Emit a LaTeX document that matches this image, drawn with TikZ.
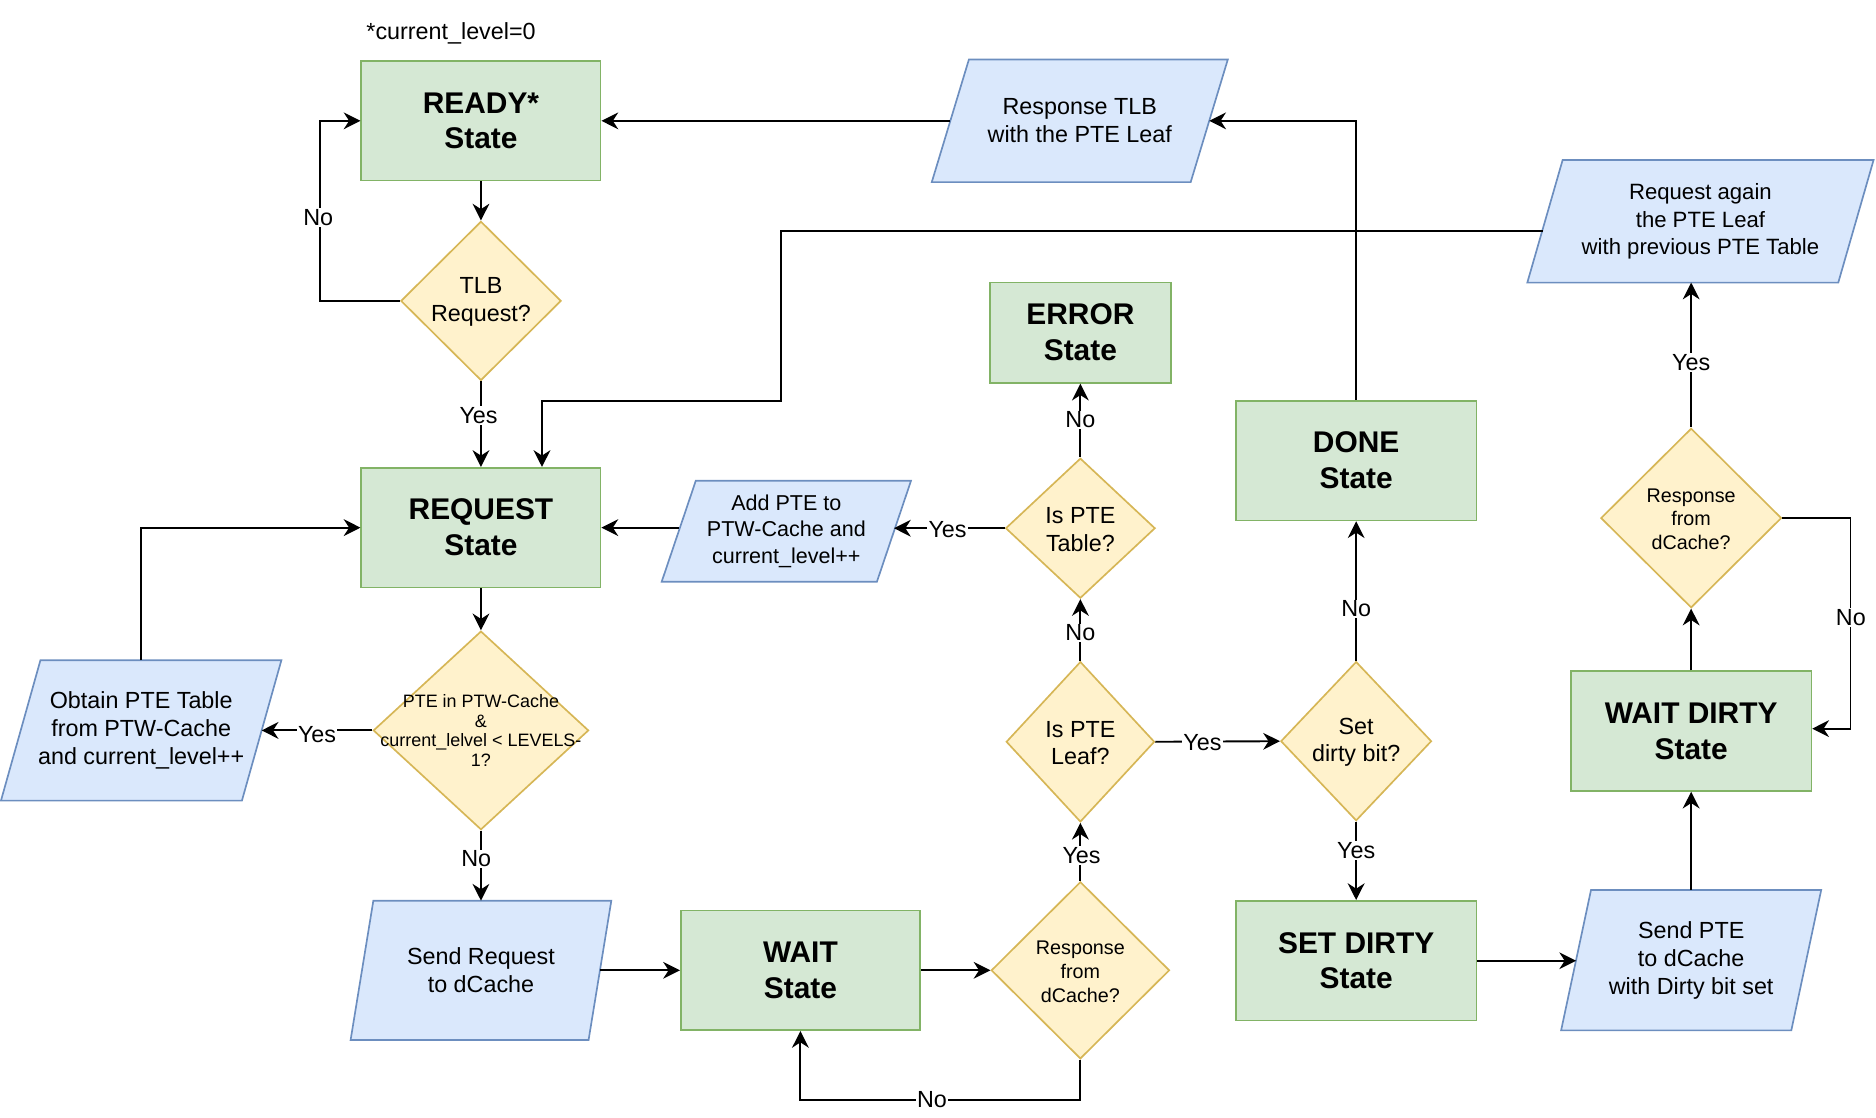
\documentclass[tikz,border=0pt]{standalone}
\usepackage{fontspec}
\setmainfont{Liberation Sans}
\usetikzlibrary{arrows.meta,shapes.geometric,calc,backgrounds}

\definecolor{stfill}{HTML}{D5E8D4}
\definecolor{stline}{HTML}{82B366}
\definecolor{dcfill}{HTML}{FFF2CC}
\definecolor{dcline}{HTML}{D6B656}
\definecolor{iofill}{HTML}{DAE8FC}
\definecolor{ioline}{HTML}{6C8EBF}

\tikzset{
  statebox/.style={rectangle, draw=stline, fill=stfill, line width=1.4pt,
    minimum width=200pt, minimum height=100pt, inner sep=0pt, align=center,
    font=\fontsize{25}{30}\selectfont\bfseries},
  decision/.style={diamond, draw=dcline, fill=dcfill, line width=1.4pt,
    inner sep=0pt, aspect=1},
  dtext/.style={align=center, inner sep=0pt, font=\fontsize{19.5}{23}\selectfont},
  dsmall/.style={align=center, inner sep=0pt, font=\fontsize{16.5}{20}\selectfont},
  iobox/.style={rectangle, inner sep=0pt, align=center,
    font=\fontsize{19.5}{23.5}\selectfont},
  conn/.style={draw, line width=1.6pt, -{Stealth[length=14pt,width=14pt,inset=4.5pt]}},
  lbl/.style={fill=white, inner sep=1pt, font=\fontsize{19.5}{22}\selectfont},
}

% parallelogram drawn around a rectangular node: #1 node, #2 horizontal slant
\newcommand\slantbox[2]{%
  \filldraw[draw=ioline, fill=iofill, line width=1.4pt]
    ($(#1.north west)+(#2/2,0)$) -- ($(#1.north east)+(#2/2,0)$) --
    ($(#1.south east)-(#2/2,0)$) -- ($(#1.south west)-(#2/2,0)$) -- cycle;}

\begin{document}
\begin{tikzpicture}[x=1pt,y=-1pt]
\useasboundingbox (0,0) rectangle (1568,934);

% ---- states ----
\node[statebox] (ready) at (402,101) {READY*\\State};
\node[statebox] (request) at (402,441) {REQUEST\\State};
\node[statebox] (wait) at (669,811) {WAIT\\State};
\node[statebox, minimum width=151pt, minimum height=84pt] (error) at (903,278) {ERROR\\State};
\node[statebox, minimum width=201pt] (done) at (1133.5,385) {DONE\\State};
\node[statebox, minimum width=201pt] (setdirty) at (1133.5,803) {SET DIRTY\\State};
\node[statebox, minimum width=201pt] (waitdirty) at (1413.5,611) {WAIT DIRTY\\State};

\node[font=\fontsize{19.5}{23}\selectfont] (note) at (377,28) {*current\_level=0};

% ---- decisions ----
\node[decision, minimum width=134pt, minimum height=133pt] (tlb) at (402,251.5) {};
\node[dtext] (tlbT) at ([yshift=-1pt]tlb) {TLB\\Request?};
\node[decision, minimum width=180pt, minimum height=166pt] (pte) at (402,610.5) {};
\node[align=center, inner sep=0pt, font=\fontsize{15}{16.5}\selectfont] (pteT) at (pte)
  {PTE in PTW-Cache\\\&\\current\_lelvel < LEVELS-\\1?};
\node[decision, minimum width=149pt, minimum height=148pt] (resp1) at (903,811) {};
\node[dsmall] (resp1T) at ([yshift=-1pt]resp1) {Response\\from\\dCache?};
\node[decision, minimum width=124pt, minimum height=134pt] (leaf) at (903,620) {};
\node[dtext] (leafT) at ([yshift=-1pt]leaf) {Is PTE\\Leaf?};
\node[decision, minimum width=125pt, minimum height=117pt] (table) at (903,441.5) {};
\node[dtext] (tableT) at ([yshift=-1pt]table) {Is PTE\\Table?};
\node[decision, minimum width=126pt, minimum height=133pt] (dirtyq) at (1133.5,619.5) {};
\node[dtext] (dirtyqT) at ([yshift=-1pt]dirtyq) {Set\\dirty bit?};
\node[decision, minimum width=151pt, minimum height=150pt] (resp2) at (1413.5,433) {};
\node[dsmall] (resp2T) at ([yshift=-1pt]resp2) {Response\\from\\dCache?};

% ---- input / output steps ----
\node[iobox, minimum width=201pt, minimum height=117pt] (obtain) at (118,610.5)
  {Obtain PTE Table\\from PTW-Cache\\and current\_level++};
\node[iobox, minimum width=198.5pt, minimum height=116pt] (sendreq) at (402,811)
  {Send Request\\to dCache};
\node[iobox, minimum width=179.5pt, minimum height=84pt, font=\fontsize{18}{22}\selectfont] (addpte) at (657.25,444)
  {Add PTE to\\PTW-Cache and\\current\_level++};
\node[iobox, minimum width=216pt, minimum height=102pt] (resptlb) at (902.5,101)
  {Response TLB\\with the PTE Leaf};
\node[iobox, minimum width=259.5pt, minimum height=102pt, font=\fontsize{18.5}{23}\selectfont] (reqagain) at (1421.25,185)
  {Request again\\the PTE Leaf\\with previous PTE Table};
\node[iobox, minimum width=192pt, minimum height=117pt] (sendpte) at (1413.5,802.5)
  {Send PTE\\to dCache\\with Dirty bit set};

\begin{pgfonlayer}{background}
  \slantbox{obtain}{33}
  \slantbox{sendreq}{19}
  \slantbox{addpte}{28.5}
  \slantbox{resptlb}{31}
  \slantbox{reqagain}{29.5}
  \slantbox{sendpte}{25}
\end{pgfonlayer}

\coordinate (bendA) at (653,335);

% ---- connectors ----
\draw[conn] (ready.south) -- (tlb.north);
\draw[conn] (tlb.west) -| ([xshift=-34pt]ready.west) -- (ready.west);
\draw[conn] (tlb.south) -- (request.north);
\draw[conn] ([shift={(-2pt,-8pt)}]reqagain.west) -| (bendA) -| ([xshift=51pt]request.north);
\draw[conn] (request.south) -- (pte.north);
\draw[conn] (pte.west) -- (obtain.east);
\draw[conn] (obtain.north) |- (request.west);
\draw[conn] (pte.south) -- (sendreq.north);
\draw[conn] (sendreq.east) -- (wait.west);
\draw[conn] (wait.east) -- (resp1.west);
\draw[conn] (resp1.south) -- ++(0,34) -| (wait.south);
\draw[conn] (resp1.north) -- (leaf.south);
\draw[conn] (leaf.north) -- (table.south);
\draw[conn] (table.north) -- (error.south);
\draw[conn] (table.west) -- (table.west -| addpte.east);
\draw[conn] (addpte.west |- request.east) -- (request.east);
\draw[conn] (leaf.east) -- (dirtyq.west);
\draw[conn] (dirtyq.north) -- (done.south);
\draw[conn] (dirtyq.south) -- (setdirty.north);
\draw[conn] (done.north) |- (resptlb.east);
\draw[conn] (resptlb.west) -- (ready.east);
\draw[conn] (setdirty.east) -- (setdirty.east -| sendpte.west);
\draw[conn] (sendpte.north) -- (waitdirty.south);
\draw[conn] (waitdirty.north) -- (resp2.south);
\draw[conn] (resp2.east) -| ([xshift=32pt,yshift=2pt]waitdirty.east) -- ([yshift=2pt]waitdirty.east);
\draw[conn] (resp2.north) -- (resp2.north |- reqagain.south);

% ---- connector labels ----
\node[lbl] (l1) at (266,182) {No};
\node[lbl] (l2) at (400,347) {Yes};
\node[lbl] (l3) at (265,614) {Yes};
\node[lbl] (l4) at (398,718) {No};
\node[lbl] (l5) at (779,919) {No};
\node[lbl] (l6) at (904,715) {Yes};
\node[lbl] (l7) at (903,529) {No};
\node[lbl] (l8) at (903,351) {No};
\node[lbl] (l9) at (792,443) {Yes};
\node[lbl] (l10) at (1005,621) {Yes};
\node[lbl] (l11) at (1133.5,509) {No};
\node[lbl] (l12) at (1133.5,711) {Yes};
\node[lbl] (l13) at (1547,516) {No};
\node[lbl] (l14) at (1413.5,303) {Yes};
\end{tikzpicture}
\end{document}
